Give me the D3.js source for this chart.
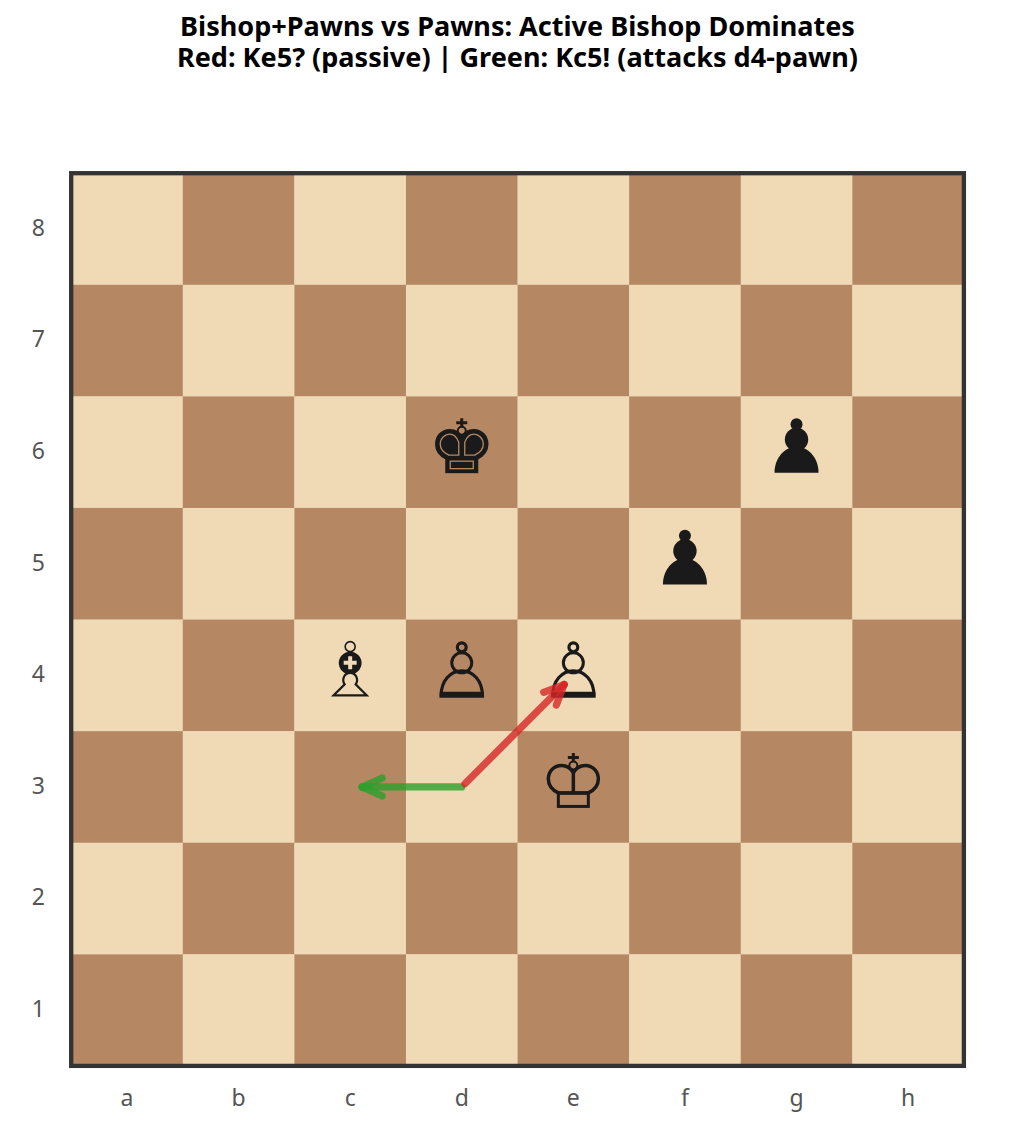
<!DOCTYPE html>
<html lang="en">
<head>
    <meta charset="UTF-8">
    <title>Bishop+Pawns vs Pawns</title>
    <script src="https://d3js.org/d3.v7.min.js"></script>
    <style>
        body { margin: 0; padding: 0; background: white; font-family: 'Noto Sans', sans-serif; }
        svg { display: block; }
        .title { font-size: 27.05px; font-weight: 700; fill: #000; text-anchor: middle; }
        .tick text { font-size: 23px; fill: #555; font-family: 'Noto Sans', sans-serif; }
    </style>
</head>
<body>
    <svg id="chart" width="1035" height="1137"></svg>
    <script>
        const titleLines = ["Bishop+Pawns vs Pawns: Active Bishop Dominates", "Red: Ke5? (passive) | Green: Kc5! (attacks d4-pawn)"];
        const files = ["a", "b", "c", "d", "e", "f", "g", "h"];
        const ranks = ["8", "7", "6", "5", "4", "3", "2", "1"];

        // square, piece
        const blackKings = ["d6"];
        const blackPawns = ["g6", "f5"];
        const whitePawns = ["d4", "e4"];
        const whiteBishops = ["c4"];
        const whiteKings = ["e3"];

        const redArrow = ["d3", "e4"];
        const greenArrow = ["d3", "c3"];

        const LIGHT = "#f0d9b5", DARK = "#b58863", INK = "#1a1a1a";

        const svg = d3.select("#chart");

        svg.selectAll("text.title").data(titleLines).join("text")
            .attr("class", "title")
            .attr("x", 517.5)
            .attr("y", (d, i) => 36.3 + i * 31)
            .text(d => d);

        const x = d3.scaleBand().domain(files).range([71.2, 963.9]);
        const y = d3.scaleBand().domain(ranks).range([173.2, 1065.9]);
        const size = x.bandwidth();

        const cx = s => x(s[0]) + size / 2;
        const cy = s => y(s[1]) + size / 2;
        const squareColor = s => (files.indexOf(s[0]) + +s[1]) % 2 === 0 ? LIGHT : DARK;

        // board
        const squares = d3.cross(files, ranks, (f, r) => f + r);
        svg.append("g").selectAll("rect").data(squares).join("rect")
            .attr("x", d => x(d[0]))
            .attr("y", d => y(d[1]))
            .attr("width", size + 0.3)
            .attr("height", size + 0.3)
            .attr("fill", squareColor);

        svg.append("rect")
            .attr("x", x.range()[0])
            .attr("y", y.range()[0])
            .attr("width", x.range()[1] - x.range()[0])
            .attr("height", y.range()[1] - y.range()[0])
            .attr("fill", "none")
            .attr("stroke", "#333")
            .attr("stroke-width", 4.3);

        // axes
        const xAxis = svg.append("g")
            .attr("transform", "translate(0,1066)")
            .call(d3.axisBottom(x).tickSize(0).tickPadding(24));
        xAxis.select(".domain").remove();
        const yAxis = svg.append("g")
            .attr("transform", "translate(71,-0.5)")
            .call(d3.axisLeft(y).tickSize(0).tickPadding(26));
        yAxis.select(".domain").remove();

        // piece shapes, drawn around the centre of the square
        function crown(g, color) {
            g.append("path").attr("d", "M-5.5,-29.5H5.5M0,-34V-25.5")
                .attr("stroke", color).attr("stroke-width", 3).attr("fill", "none");
            g.append("circle").attr("cy", -21.5).attr("r", 4)
                .attr("fill", "none").attr("stroke", color).attr("stroke-width", 2);
        }
        const lobes = "M0,-14C-3,-20 -8,-21.5 -12,-21.5C-20,-21.5 -25,-15 -25,-8C-25,0 -19,4 -15,6"
            + "L15,6C19,4 25,0 25,-8C25,-15 20,-21.5 12,-21.5C8,-21.5 3,-20 0,-14Z";

        function whiteKing(g) {
            crown(g, INK);
            g.append("path").attr("d", lobes + "M0,-16V6")
                .attr("fill", "none").attr("stroke", INK).attr("stroke-width", 3.5);
            g.append("rect").attr("x", -15).attr("y", 6).attr("width", 30).attr("height", 13.5)
                .attr("fill", "none").attr("stroke", INK).attr("stroke-width", 3);
        }

        function blackKing(g, s) {
            crown(g, INK);
            g.append("path").attr("d", lobes).attr("fill", INK).attr("stroke", INK).attr("stroke-width", 3.5);
            g.append("path")
                .attr("d", "M-3,-10C-5,-15 -8,-18 -12,-18C-17,-18 -21.5,-14 -21.5,-8C-21.5,-2 -17,1 -13,3H-3Z"
                    + "M3,-10C5,-15 8,-18 12,-18C17,-18 21.5,-14 21.5,-8C21.5,-2 17,1 13,3H3Z")
                .attr("fill", "none").attr("stroke", squareColor(s)).attr("stroke-width", 1.3);
            g.append("rect").attr("x", -15).attr("y", 6).attr("width", 30).attr("height", 13.5)
                .attr("fill", INK).attr("stroke", INK).attr("stroke-width", 3);
            g.append("rect").attr("x", -11.5).attr("y", 9).attr("width", 23).attr("height", 7.5)
                .attr("fill", "none").attr("stroke", squareColor(s)).attr("stroke-width", 1.3);
        }

        const dome = "M-20.7,20.7C-20.7,5 -11,-4.5 0,-4.5C11,-4.5 20.7,5 20.7,20.7Z";

        function whitePawn(g) {
            g.append("path").attr("d", dome).attr("fill", "none").attr("stroke", INK).attr("stroke-width", 3.2);
            g.append("path").attr("d", "M-22,18.5H22").attr("stroke", INK).attr("stroke-width", 4.4);
            g.append("circle").attr("cy", -12.5).attr("r", 10)
                .attr("fill", "none").attr("stroke", INK).attr("stroke-width", 3);
            g.append("circle").attr("cy", -28).attr("r", 4.4)
                .attr("fill", "none").attr("stroke", INK).attr("stroke-width", 3.2);
        }

        function blackPawn(g) {
            g.append("path").attr("d", "M-22,20.7C-22,5 -11,-5.3 0,-5.3C11,-5.3 22,5 22,20.7Z").attr("fill", INK);
            g.append("circle").attr("cy", -12.7).attr("r", 11.7).attr("fill", INK);
            g.append("circle").attr("cy", -28).attr("r", 6).attr("fill", INK);
        }

        function whiteBishop(g, s) {
            g.append("circle").attr("cy", -28.7).attr("r", 5)
                .attr("fill", "none").attr("stroke", INK).attr("stroke-width", 1.6);
            g.append("circle").attr("cy", -12.3).attr("r", 11.4).attr("fill", INK);
            g.append("path").attr("d", "M-6.5,-12.5H6.5M0,-19V-6")
                .attr("stroke", LIGHT).attr("stroke-width", 4);
            g.append("path")
                .attr("d", "M-16.5,20L-5.5,9C-8.5,5 -6.5,-2.5 0,-2.5C6.5,-2.5 8.5,5 5.5,9L16.5,20Z")
                .attr("fill", squareColor(s)).attr("stroke", INK).attr("stroke-width", 2.2);
        }

        const placements = [
            [blackKings, blackKing], [blackPawns, blackPawn], [whitePawns, whitePawn],
            [whiteBishops, whiteBishop], [whiteKings, whiteKing]
        ];
        placements.forEach(([list, draw]) => {
            list.forEach(s => {
                const g = svg.append("g").attr("transform", `translate(${cx(s)},${cy(s)})`);
                draw(g, s);
            });
        });

        // arrows: start a little off the centre, stop short of the target centre
        function drawArrow(sq, color, startGap, endGap) {
            const [x0, y0, x1, y1] = [cx(sq[0]), cy(sq[0]), cx(sq[1]), cy(sq[1])];
            const a = Math.atan2(y1 - y0, x1 - x0);
            const len = Math.hypot(x1 - x0, y1 - y0);
            const g = svg.append("g")
                .attr("transform", `translate(${x0},${y0}) rotate(${a * 180 / Math.PI})`)
                .attr("fill", "none")
                .attr("stroke", color)
                .attr("stroke-width", 7.2)
                .attr("stroke-linecap", "round");
            const tip = len - endGap;
            g.append("path").attr("d", `M${startGap},0H${tip}`);
            g.append("path").attr("d", `M${tip - 20},-9L${tip},0`);
            g.append("path").attr("d", `M${tip - 20},9L${tip},0`);
        }
        drawArrow(greenArrow, "rgba(44,160,44,0.8)", 0, 12);
        drawArrow(redArrow, "rgba(214,39,40,0.8)", 4.5, 13);
    </script>
</body>
</html>
